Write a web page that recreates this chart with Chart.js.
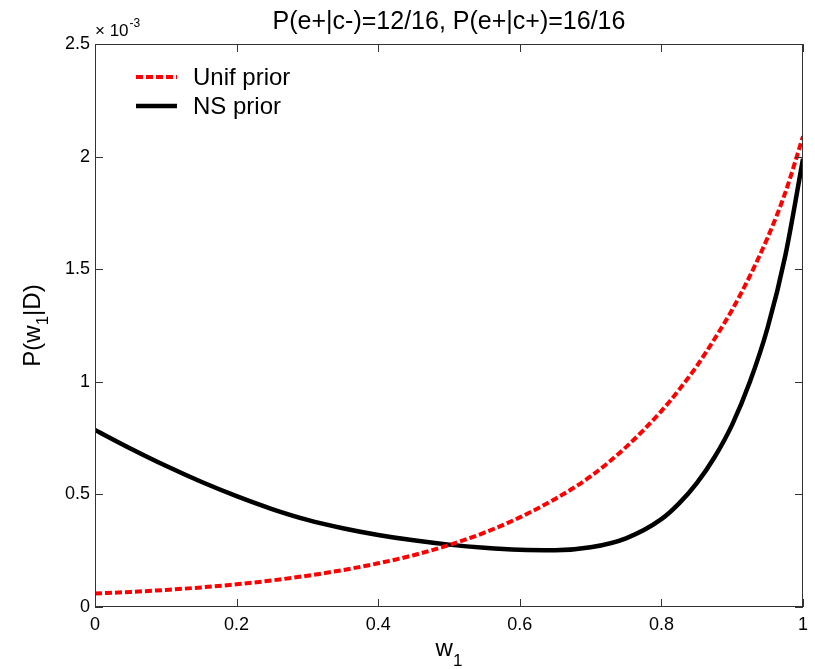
<!DOCTYPE html>
<html>
<head>
<meta charset="utf-8">
<script src="https://cdn.jsdelivr.net/npm/chart.js@4/dist/chart.umd.min.js"></script>
<style>
  html, body { margin: 0; padding: 0; background: #fff; }
  #wrap { width: 815px; height: 669px; }
</style>
</head>
<body>
<div id="wrap"><canvas id="c" width="815" height="669"></canvas></div>
<script>
// Posterior over w1 under two priors (values in units of 1e-3)
const wValues = [0, 0.05, 0.1, 0.15, 0.2, 0.25, 0.3, 0.35, 0.4, 0.45, 0.5, 0.55, 0.6, 0.65, 0.7, 0.75,
                 0.8, 0.825, 0.85, 0.875, 0.9, 0.925, 0.95, 0.975, 1.0];
const unifPrior = [0.06, 0.067, 0.076, 0.087, 0.101, 0.118, 0.139, 0.164, 0.194, 0.23, 0.275, 0.33, 0.398, 0.48, 0.58, 0.71,
                   0.87, 0.965, 1.07, 1.19, 1.32, 1.47, 1.64, 1.84, 2.09];
const nsPrior = [0.786, 0.704, 0.627, 0.556, 0.492, 0.435, 0.387, 0.35, 0.32, 0.296, 0.277, 0.263, 0.254, 0.252, 0.265, 0.305,
                 0.39, 0.46, 0.55, 0.665, 0.81, 1.0, 1.24, 1.56, 1.99];
const seriesNames = ['Unif prior', 'NS prior'];
const xTicks = [0, 0.2, 0.4, 0.6, 0.8, 1];
const yTicks = [0, 0.5, 1, 1.5, 2, 2.5];
const titleText = 'P(e+|c-)=12/16, P(e+|c+)=16/16';

const FONT = '"Liberation Sans", Arial, Helvetica, sans-serif';

const toPoints = (ys) => wValues.map((w, i) => ({ x: w, y: ys[i] }));

const decorations = {
  id: 'decorations',
  afterDraw(chart) {
    const { ctx, chartArea: a, scales } = chart;
    const xs = scales.x, ys = scales.y;
    ctx.save();

    // axes box
    ctx.strokeStyle = '#333';
    ctx.lineWidth = 1;
    ctx.setLineDash([]);
    ctx.strokeRect(a.left + 0.5, a.top + 0.5, a.right - a.left - 1, a.bottom - a.top - 1);

    // inward ticks on all four sides
    const tl = 8;
    ctx.beginPath();
    xTicks.forEach(v => {
      const px = Math.round(xs.getPixelForValue(v)) + 0.5;
      ctx.moveTo(px, a.bottom); ctx.lineTo(px, a.bottom - tl);
      ctx.moveTo(px, a.top); ctx.lineTo(px, a.top + tl);
    });
    yTicks.forEach(v => {
      const py = Math.round(ys.getPixelForValue(v)) + 0.5;
      ctx.moveTo(a.left, py); ctx.lineTo(a.left + tl, py);
      ctx.moveTo(a.right, py); ctx.lineTo(a.right - tl, py);
    });
    ctx.stroke();

    ctx.fillStyle = '#000';

    // title
    ctx.font = '25px ' + FONT;
    ctx.textAlign = 'center';
    ctx.textBaseline = 'alphabetic';
    ctx.fillText(titleText, (a.left + a.right) / 2, 29);

    // exponent label
    ctx.textAlign = 'left';
    ctx.font = '17px ' + FONT;
    ctx.fillText('\u00d7 10', a.left, 36);
    const w10 = ctx.measureText('\u00d7 10').width;
    ctx.font = '12px ' + FONT;
    ctx.fillText('-3', a.left + w10 + 1, 27);

    // x axis label w_1
    const cx = (a.left + a.right) / 2;
    ctx.font = '24px ' + FONT;
    const wW = ctx.measureText('w').width;
    ctx.font = '17px ' + FONT;
    const w1 = ctx.measureText('1').width;
    const startX = cx - (wW + w1) / 2;
    ctx.font = '24px ' + FONT;
    ctx.fillText('w', startX, 656);
    ctx.font = '17px ' + FONT;
    ctx.fillText('1', startX + wW, 666);

    // y axis label P(w_1|D), rotated
    ctx.save();
    ctx.translate(40, (a.top + a.bottom) / 2);
    ctx.rotate(-Math.PI / 2);
    const parts = [['P(w', 24, 0], ['1', 17, 8], ['|D)', 24, 0]];
    let total = 0;
    parts.forEach(p => { ctx.font = p[1] + 'px ' + FONT; total += ctx.measureText(p[0]).width; });
    let px = -total / 2;
    parts.forEach(p => {
      ctx.font = p[1] + 'px ' + FONT;
      ctx.fillText(p[0], px, p[2]);
      px += ctx.measureText(p[0]).width;
    });
    ctx.restore();

    // legend
    const rows = [77, 106];
    chart.data.datasets.forEach((ds, i) => {
      const y = rows[i];
      ctx.beginPath();
      ctx.strokeStyle = ds.borderColor;
      ctx.lineWidth = ds.borderWidth;
      ctx.setLineDash(ds.borderDash || []);
      ctx.moveTo(136, y);
      ctx.lineTo(177, y);
      ctx.stroke();
      ctx.setLineDash([]);
      ctx.font = '24px ' + FONT;
      ctx.textBaseline = 'middle';
      ctx.fillStyle = '#000';
      ctx.fillText(ds.label, 193, y + 1);
    });

    ctx.restore();
  }
};

new Chart(document.getElementById('c'), {
  type: 'line',
  data: {
    datasets: [
      {
        label: seriesNames[0],
        data: toPoints(unifPrior),
        borderColor: '#ff0000',
        borderWidth: 4,
        borderDash: [7, 3],
        pointRadius: 0,
        fill: false,
        cubicInterpolationMode: 'monotone'
      },
      {
        label: seriesNames[1],
        data: toPoints(nsPrior),
        borderColor: '#000000',
        borderWidth: 4.5,
        pointRadius: 0,
        fill: false,
        cubicInterpolationMode: 'monotone'
      }
    ]
  },
  options: {
    responsive: false,
    animation: false,
    events: [],
    layout: { padding: { top: 44, right: 5, left: 0, bottom: 0 } },
    plugins: { legend: { display: false }, title: { display: false }, tooltip: { enabled: false } },
    scales: {
      x: {
        type: 'linear',
        min: 0, max: 1,
        afterBuildTicks: s => { s.ticks = xTicks.map(v => ({ value: v })); },
        afterFit: s => { s.height = 62; },
        grid: { display: false, drawTicks: false },
        border: { display: false },
        ticks: {
          padding: 7,
          color: '#000',
          font: { family: FONT, size: 18 },
          maxRotation: 0,
          callback: v => String(v)
        }
      },
      y: {
        type: 'linear',
        min: 0, max: 2.5,
        afterBuildTicks: s => { s.ticks = yTicks.map(v => ({ value: v })); },
        afterFit: s => { s.width = 95; },
        grid: { display: false, drawTicks: false },
        border: { display: false },
        ticks: {
          padding: 5,
          color: '#000',
          font: { family: FONT, size: 18 },
          callback: v => String(v)
        }
      }
    }
  },
  plugins: [decorations]
});
</script>
</body>
</html>
